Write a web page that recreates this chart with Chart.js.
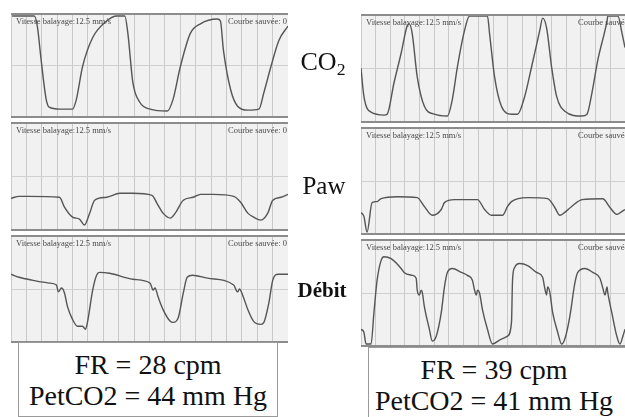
<!DOCTYPE html>
<html>
<head>
<meta charset="utf-8">
<script src="https://cdn.jsdelivr.net/npm/chart.js@4.4.1/dist/chart.umd.min.js"></script>
<style>
  html, body { margin:0; padding:0; background:#fff; }
  #stage { position:relative; width:625px; height:417px; overflow:hidden; background:#fff; font-family:"Liberation Serif","Times New Roman",serif; }
  .panel { position:absolute; box-sizing:border-box; border-top:2px solid #8c8c8c; border-bottom:2px solid #8c8c8c; background:#f1f1f1; overflow:hidden; }
  .panel canvas { position:absolute; left:0; top:0; }
  .hdr { position:absolute; top:1px; font-size:8.5px; color:#4a4a4a; white-space:nowrap; z-index:2; }
  .lbl { position:absolute; color:#111; white-space:nowrap; text-align:center; width:80px; }
  .box { position:absolute; box-sizing:border-box; border:1px solid #9a9a9a; background:#fff; }
  .boxtxt { position:absolute; width:100%; text-align:center; font-size:28px; color:#111; white-space:nowrap; line-height:1; }
</style>
</head>
<body>
<div id="stage"></div>
<script>
// ---- Data (time in % of sweep, amplitude in % of panel height) ----
const co2LeftT  = [0.4,8.4,9.5,10.9,12.7,13.8,17.5,22.2,23.6,25.8,29.5,34.5,38.2,41.1,42.2,44,46.5,50.2,56.4,58.5,61.1,64.7,68.4,74.5,75.6,76.7,79.3,81.8,85.5,89.5,91.3,93.8,96.7,100];
const co2LeftV  = [99,99,89,55,16.5,8.7,6.8,6.8,16.5,48.5,77.7,94,99,99,81.6,33,13.6,6.8,4.9,16.5,48.5,81.6,91.3,96,94,65,26,9.7,5.8,6.8,23.3,48.5,74.8,89];

const pawLeftT  = [0,2.9,6.5,17.5,19.3,22.2,24.7,26.5,28.4,30.2,34.5,39.3,44,50.9,52.7,54.9,57.5,59.3,62.2,65.8,68.4,73.1,80.4,82.9,85.5,87.6,90.2,92.7,94.5,97.5,100];
const pawLeftV  = [29.2,31.1,31.1,30.2,20.8,11.3,9.4,3.8,15.1,27.4,30.2,34,34,32.1,24.5,15.1,10.4,15.1,27.4,30.2,33,33,31.1,25.5,15.1,11.3,8.5,15.1,27.4,30.2,33];

const debLeftT  = [0,2.9,7.6,13.8,16.4,17.1,18.2,19.3,20.4,22.2,24,25.8,26.9,27.6,29.5,30.9,32,35.6,44,50.2,51.3,52,53.1,54.9,57.5,58.5,60.4,62.2,63.6,65.5,70.9,80.4,81.8,82.5,83.6,85.5,87.6,90.2,91.3,93.1,94.5,96.4,100];
const debLeftV  = [64.2,61.3,58.5,55.7,53.8,47.2,50.9,46.2,33,20.8,14.2,14.2,11.3,17.9,49.1,63.2,66,65.1,59.4,55.7,49.1,50.9,42.5,30.2,18.9,17.9,22.6,46.2,61.3,63.2,60.4,53.8,47.2,50,44.3,30.2,18.9,16,17.9,36.8,58.5,64.2,64.2];

const co2RightT = [0,1.1,3.8,8.7,9.9,12.5,15.2,17.5,18.3,19.4,21.3,24,27.8,32.7,34.6,36.5,39.2,41.1,47.9,48.7,50.6,53.2,57,59.3,62,64.6,67.7,68.8,70.3,72.2,74.1,77.2,83.7,85.6,87.5,89.7,93.2,93.5,97.3,98.9,100];
const co2RightV = [50.5,23.4,8.4,5.6,6.5,36.4,64.5,90.7,92.5,83.2,42,14,6.5,4.7,20.6,51.4,86,100,100,83.2,42,14,6.5,6.5,23.4,51.4,86,98,88.8,51.4,23.4,9.3,4.7,6.5,27.1,58,95.3,100,100,83.2,70];

const pawRightT = [0,1.1,2.3,4.2,6.1,7.6,13.7,21.3,24,27,30.4,31.6,35.4,44.1,46.8,49.4,53.6,55.5,57,63.1,70.7,73.4,75.3,77.2,79.8,83.7,91.6,94.3,97,98.9,100];
const pawRightV = [19.8,16,0.9,29.2,30.2,33,34.9,34,25.5,17,22.6,29.2,32.1,32.1,22.6,17,17,25.5,30.2,34,33,24.5,17,19.8,25.5,32.1,33,24.5,17.9,20.8,22.6];

const debRightT = [0,1.1,1.9,3.8,4.9,6.1,7.6,8.7,11.4,15.2,16.3,19.4,20.9,21.3,22.1,22.8,23.2,24,25.9,27,28.5,30.4,31.6,32.7,34.6,38,40.3,42.2,43,43.7,44.1,44.9,46,47.9,49.8,53.2,55.5,57,57.4,58.2,60.1,63.1,66.5,68.8,69.6,70.3,70.7,71.5,72.6,74.5,76,77.2,79.1,81,82.1,84.8,87.8,90.5,91.6,92.4,93.2,93.5,95,96.9,98.1,99.2,100];
const debRightV = [15.1,12.3,0.9,0.9,31.1,62.3,81.1,84.9,83,73.6,69.8,67,64.2,52.8,48.1,52.8,50.9,36.8,15.1,3.8,8.5,31.1,55.7,69.8,73.6,69.8,67,62.3,52.8,48.1,52.8,50,34,15.1,0.9,5.7,8.5,21.7,62.3,74.5,78.3,76.4,69.8,65.1,54.7,48.1,55.7,50.9,31.1,12.3,0.9,5.7,27.4,59.4,69.8,73.6,69.8,64.2,54.7,48.1,55.7,50,31.1,8.5,0.9,8.5,15.1];

const headerLeft  = "Vitesse balayage:12.5 mm/s";
const headerRight = "Courbe sauvée: 0";
const boxLines = [["FR = 28 cpm", "PetCO2 = 44 mm Hg"], ["FR = 39 cpm", "PetCO2 = 41 mm Hg"]];

// ---- Layout ----
const stage = document.getElementById('stage');
const panels = [
  {l:11,  t:13,  w:277, h:105, T:co2LeftT,  V:co2LeftV},
  {l:11,  t:122, w:277, h:109, T:pawLeftT,  V:pawLeftV},
  {l:11,  t:235, w:277, h:108, T:debLeftT,  V:debLeftV},
  {l:361, t:14,  w:264, h:109, T:co2RightT, V:co2RightV, cut:true},
  {l:361, t:127, w:264, h:108, T:pawRightT, V:pawRightV, cut:true},
  {l:361, t:239, w:264, h:108, T:debRightT, V:debRightV, cut:true}
];

panels.forEach(p => {
  const d = document.createElement('div');
  d.className = 'panel';
  Object.assign(d.style, {left:p.l+'px', top:p.t+'px', width:p.w+'px', height:p.h+'px'});
  const c = document.createElement('canvas');
  const ch = p.h - 4;
  c.width = p.w; c.height = ch;
  c.style.width = p.w+'px'; c.style.height = ch+'px';
  d.appendChild(c);
  const h1 = document.createElement('div');
  h1.className = 'hdr'; h1.style.left = '5px'; h1.textContent = headerLeft;
  d.appendChild(h1);
  const h2 = document.createElement('div');
  h2.className = 'hdr';
  if (p.cut) { h2.style.left = (217)+'px'; } else { h2.style.right = '1px'; }
  h2.textContent = headerRight;
  d.appendChild(h2);
  stage.appendChild(d);

  new Chart(c, {
    type: 'line',
    data: { datasets: [{
      data: p.T.map((t,i) => ({x:t, y:p.V[i]})),
      borderColor: '#555',
      borderWidth: 1.4,
      pointRadius: 0,
      cubicInterpolationMode: 'monotone',
      fill: false
    }]},
    options: {
      responsive: false,
      animation: false,
      layout: { padding: 0 },
      plugins: { legend:{display:false}, tooltip:{enabled:false}, title:{display:false} },
      scales: {
        x: { type:'linear', min:0, max:100,
             ticks:{display:false, stepSize:100/18},
             grid:{color:'#c9c9c9', lineWidth:1, drawTicks:false},
             border:{display:false},
             afterFit: s => { s.height = 0; } },
        y: { type:'linear', min:0, max:100,
             ticks:{display:false, stepSize:50},
             grid:{color: ctx => (ctx.tick && ctx.tick.value === 50) ? '#d0d0d0' : 'rgba(0,0,0,0)', drawTicks:false},
             border:{display:false},
             afterFit: s => { s.width = 0; } }
      }
    }
  });
});

// ---- Side labels ----
function addLabel(html, x, y, size, bold) {
  const e = document.createElement('div');
  e.className = 'lbl';
  e.innerHTML = html;
  Object.assign(e.style, {left:(x-40)+'px', top:y+'px', fontSize:size+'px', fontWeight: bold ? 'bold':'normal'});
  stage.appendChild(e);
}
addLabel('CO<sub style="font-size:0.68em;vertical-align:-0.3em">2</sub>', 323, 47, 26, false);
addLabel('Paw', 324, 172, 25, false);
addLabel('Débit', 322, 278, 21, true);

// ---- Boxes ----
const boxes = [
  {l:18, t:342, w:260, h:75, lines:boxLines[0], y1:8, y2:39},
  {l:368, t:347, w:270, h:72, lines:boxLines[1], y1:8, y2:39, cx:-9}
];
boxes.forEach(b => {
  const d = document.createElement('div');
  d.className = 'box';
  Object.assign(d.style, {left:b.l+'px', top:b.t+'px', width:b.w+'px', height:b.h+'px'});
  b.lines.forEach((txt, i) => {
    const e = document.createElement('div');
    e.className = 'boxtxt';
    e.textContent = txt;
    e.style.top = (i === 0 ? b.y1 : b.y2) + 'px';
    if (b.cx) e.style.left = b.cx + 'px';
    d.appendChild(e);
  });
  stage.appendChild(d);
});
</script>
</body>
</html>
